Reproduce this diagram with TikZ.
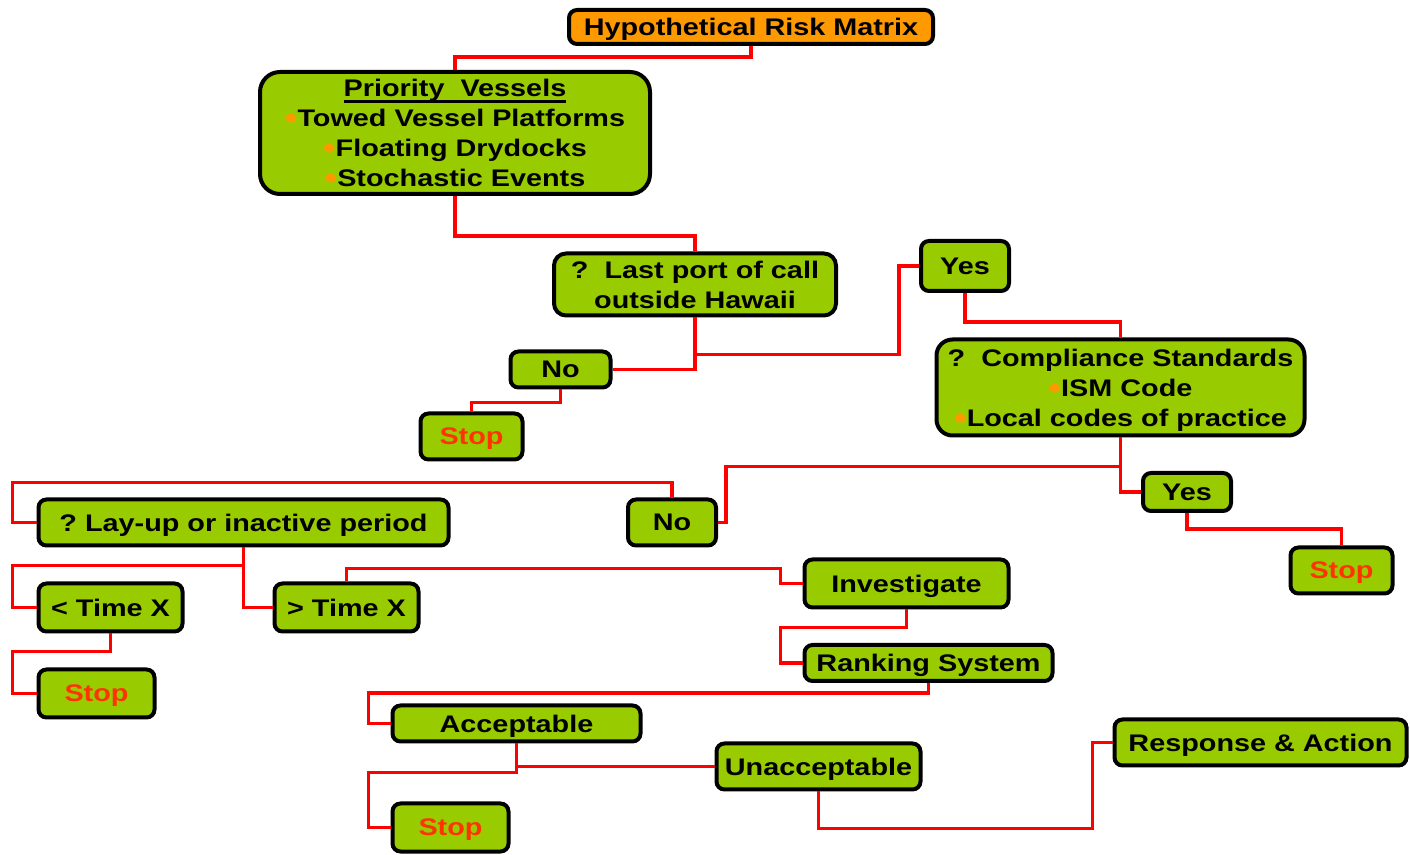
\documentclass[tikz,border=0pt]{standalone}
\usepackage{fontspec}
\setmainfont[FakeStretch=1.2]{Liberation Sans}
\usetikzlibrary{positioning}
\definecolor{mgreen}{rgb}{0.6, 0.8, 0}
\definecolor{morange}{rgb}{1, 0.6, 0}
\definecolor{mred}{rgb}{1, 0, 0}
\definecolor{mstop}{rgb}{1, 0.2, 0}
\newcommand{\bul}{\raisebox{-1.1pt}{\textcolor{morange}{\fontsize{15}{15}\selectfont•}}}
\newcommand{\thickul}[1]{\setbox0\hbox{#1}\rlap{\raisebox{-3.2pt}{\rule{\wd0}{1.3pt}}}\box0}
\tikzset{box/.style = {draw, fill=mgreen, line width=2pt, rounded corners=4pt,
                       inner sep=0pt, align=center, text depth=0pt,
                       font=\fontsize{12}{15}\selectfont\bfseries},
         link/.style = {draw=mred, line width=1.8pt},
         stopbox/.style = {box, text=mstop}}

\begin{document}
\begin{tikzpicture}[x=0.5pt, y=-0.5pt]
    \useasboundingbox (0, 0) rectangle (1410, 855);

    \node [box, fill=morange, minimum width=182pt, minimum height=17pt] (title) at (751, 27) {Hypothetical Risk Matrix};
    \node [box, rounded corners=10pt, minimum width=195pt, minimum height=61pt] (prio) at (455, 133)
        {\thickul{Priority\ \ Vessels}\\\bul Towed Vessel Platforms\\\bul Floating Drydocks\\\bul Stochastic Events};
    \node [box, rounded corners=6pt, minimum width=141pt, minimum height=31pt] (port) at (695, 284.5)
        {?\ \ Last port of call\\outside Hawaii};
    \node [box, minimum width=50pt, minimum height=18pt] (no1) at (560.5, 369.5) {No};
    \node [stopbox, minimum width=51pt, minimum height=23pt] (stop1) at (471.5, 436.5) {Stop};
    \node [box, minimum width=44pt, minimum height=25pt] (yes1) at (965, 266) {Yes};
    \node [box, rounded corners=8pt, minimum width=184pt, minimum height=48pt] (comp) at (1120.5, 387.5)
        {?\ \ Compliance Standards\\\bul ISM Code\\\bul Local codes of practice};
    \node [box, minimum width=44pt, minimum height=19pt] (yes2) at (1187, 492) {Yes};
    \node [stopbox, minimum width=51pt, minimum height=23pt] (stop2) at (1341.5, 570.5) {Stop};
    \node [box, minimum width=44pt, minimum height=23pt] (no2) at (672, 522.5) {No};
    \node [box, minimum width=205pt, minimum height=23pt] (lay) at (243.5, 522.5) {?\ Lay-up or inactive period};
    \node [box, minimum width=72pt, minimum height=24pt] (lt) at (110.5, 607.5) {< Time X};
    \node [box, minimum width=72pt, minimum height=24pt] (gt) at (346.5, 607.5) {> Time X};
    \node [stopbox, minimum width=58pt, minimum height=24pt] (stop3) at (96.5, 693.5) {Stop};
    \node [box, minimum width=102pt, minimum height=24pt] (inv) at (906.5, 583.5) {Investigate};
    \node [box, minimum width=124pt, minimum height=18pt] (rank) at (928.5, 663) {Ranking System};
    \node [box, minimum width=124pt, minimum height=18pt] (acc) at (516.5, 723.5) {Acceptable};
    \node [box, minimum width=102pt, minimum height=23pt] (unacc) at (818.5, 766.5) {Unacceptable};
    \node [stopbox, minimum width=58pt, minimum height=24pt] (stop4) at (450.5, 827.5) {Stop};
    \node [box, minimum width=146pt, minimum height=23pt] (resp) at (1260.5, 742.5) {Response \& Action};

    \draw [link] (title.south) -- ++(0, 11) -| (prio.north);
    \draw [link] (prio.south) -- ++(0, 40) -| (port.north);
    \draw [link] (port.south) |- (no1.east);
    \draw [link] (port.south) ++(0, 37) -| ([xshift=-10pt]yes1.west) -- (yes1.west);
    \draw [link] (no1.south) -- ++(0, 13) -| (stop1.north);
    \draw [link] (yes1.south) -- ++(0, 29) -| (comp.north);
    \draw [link] (comp.south) |- (yes2.west);
    \draw [link] (comp.south) ++(0, 29) -| ([xshift=4pt]no2.east) -- (no2.east);
    \draw [link] (yes2.south) -- ++(0, 16) -| (stop2.north);
    \draw [link] (no2.north) -- ++(0, -15) -| ([xshift=-12pt]lay.west) -- (lay.west);
    \draw [link] (lay.south) |- (gt.west);
    \draw [link] (lay.south) ++(0, 18) -| ([xshift=-12pt]lt.west) -- (lt.west);
    \draw [link] (lt.south) -- ++(0, 18) -| ([xshift=-12pt]stop3.west) -- (stop3.west);
    \draw [link] (gt.north) -- ++(0, -13) -| ([xshift=-11pt]inv.west) -- (inv.west);
    \draw [link] (inv.south) -- ++(0, 18) -| ([xshift=-11pt]rank.west) -- (rank.west);
    \draw [link] (rank.south) -- ++(0, 10) -| ([xshift=-11pt]acc.west) -- (acc.west);
    \draw [link] (acc.south) |- (unacc.west);
    \draw [link] (acc.south) -- ++(0, 29) -| ([xshift=-11pt]stop4.west) -- (stop4.west);
    \draw [link] (unacc.south) -- ++(0, 37) -| ([xshift=-10pt]resp.west) -- (resp.west);
  \end{tikzpicture}
\end{document}
